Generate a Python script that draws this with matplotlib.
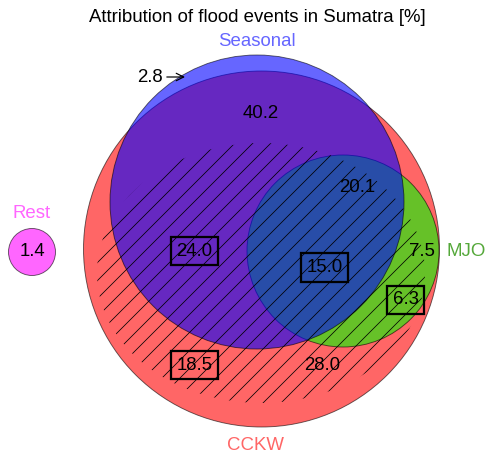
import matplotlib
matplotlib.use("Agg")
import matplotlib.pyplot as plt
from matplotlib.patches import Circle, Ellipse

plt.rcParams['font.family'] = ['Liberation Sans', 'DejaVu Sans']
plt.rcParams['hatch.linewidth'] = 0.5

# ---- data -------------------------------------------------------------
title = "Attribution of flood events in Sumatra [%]"
set_names = ["CCKW", "MJO", "Seasonal", "Rest"]
region_values = [2.8, 40.2, 20.1, 24.0, 15.0, 7.5, 6.3, 18.5, 28.0]
region_boxed = [False, False, False, True, True, False, True, True, False]
rest_value = 1.4

# ---- layout (pixel coordinates of a 490 x 455 canvas) ----------------
W, H, DPI = 490, 455, 108
circles = {               # centre x, centre y, radius
    "CCKW": (261.5, 249, 178),
    "MJO": (343, 251, 96),
    "Seasonal": (257, 202, 147),
    "Rest": (32, 252, 23.5),
}
fill_colors = {"CCKW": "red", "MJO": "lime", "Seasonal": "blue", "Rest": "magenta"}
name_colors = {"CCKW": "#ff6666", "MJO": "#55a83a", "Seasonal": "#6666ff", "Rest": "#ff66ff"}
name_pos = {"CCKW": (256, 445), "MJO": (466, 252), "Seasonal": (257, 42), "Rest": (32, 213)}
region_pos = [(149.5, 77), (261, 114), (357, 188), (194.5, 251), (324.5, 267.5),
              (422, 252), (405.5, 300), (194.5, 365), (322.5, 365)]
hatch_ellipse = (261, 273, 328, 260)

fig = plt.figure(figsize=(W / DPI, H / DPI), dpi=DPI)
ax = fig.add_axes([0, 0, 1, 1])
ax.set_xlim(0, W)
ax.set_ylim(H, 0)
ax.set_aspect("equal")
ax.axis("off")

# circles: CCKW first, then MJO, then Seasonal on top
for z, name in enumerate(["CCKW", "MJO", "Seasonal", "Rest"]):
    cx, cy, r = circles[name]
    ax.add_patch(Circle((cx, cy), r, facecolor=fill_colors[name], edgecolor="black",
                        linewidth=0.6, alpha=0.6, zorder=1 + z))

# hatched area
ex, ey, ew, eh = hatch_ellipse
ax.add_patch(Ellipse((ex, ey), ew, eh, facecolor="none", edgecolor="black",
                     linewidth=0, hatch="//", zorder=6))

fs = 12.4
ax.text(W / 2 + 12, 18, title, ha="center", va="center", fontsize=fs, color="black")

for name in set_names:
    x, y = name_pos[name]
    ax.text(x, y, name, ha="center", va="center", fontsize=fs, color=name_colors[name], zorder=8)

for i, (val, boxed) in enumerate(zip(region_values, region_boxed)):
    x, y = region_pos[i]
    if i == 0:
        ax.annotate(f"{val:.1f}", xy=(185, y), xytext=(x, y), ha="center", va="center",
                    fontsize=fs, zorder=8,
                    arrowprops=dict(arrowstyle="->", lw=0.8, color="black", shrinkA=1, shrinkB=0))
        continue
    kw = {}
    if boxed:
        kw["bbox"] = dict(boxstyle="square,pad=0.3", facecolor="none", edgecolor="black", linewidth=1.5)
    ax.text(x, y, f"{val:.1f}", ha="center", va="center", fontsize=fs, zorder=8, **kw)

cx, cy, _ = circles["Rest"]
ax.text(cx, cy, f"{rest_value:.1f}", ha="center", va="center", fontsize=fs, zorder=8)

fig.savefig("out.png", dpi=DPI)
